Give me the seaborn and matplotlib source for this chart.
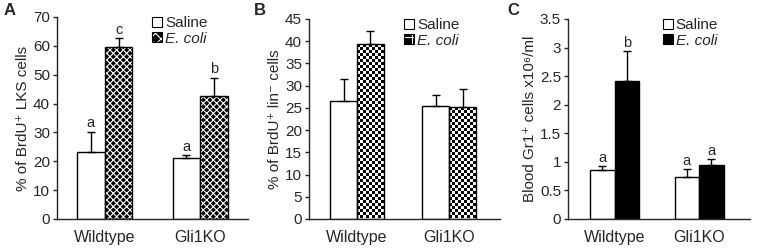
import numpy as np
import pandas as pd
import seaborn as sns
import matplotlib.pyplot as plt
from matplotlib.patches import Patch

genotypes = ["Wildtype", "Gli1KO"]
treatments = ["Saline", "E. coli"]

# panel A: % BrdU+ LKS cells
a_saline = [23.1, 21.1]
a_ecoli = [59.6, 42.7]
a_err_saline = [7.1, 1.1]
a_err_ecoli = [3.0, 6.2]
a_letters_saline = ["a", "a"]
a_letters_ecoli = ["c", "b"]

# panel B: % BrdU+ lin- cells
b_saline = [26.5, 25.5]
b_ecoli = [39.4, 25.3]
b_err_saline = [5.1, 2.5]
b_err_ecoli = [2.9, 4.0]

# panel C: blood Gr1+ cells
c_saline = [0.85, 0.74]
c_ecoli = [2.41, 0.945]
c_err_saline = [0.07, 0.13]
c_err_ecoli = [0.53, 0.10]
c_letters_saline = ["a", "a"]
c_letters_ecoli = ["b", "a"]

sns.set_style("ticks")
plt.rcParams["font.family"] = ["Liberation Sans", "DejaVu Sans"]
plt.rcParams["hatch.linewidth"] = 0.8

FS = 10.5


def make_df(saline, ecoli):
    return pd.DataFrame({
        "genotype": genotypes * 2,
        "treatment": [treatments[0]] * 2 + [treatments[1]] * 2,
        "value": list(saline) + list(ecoli),
    })


def draw_panel(ax, saline, ecoli, err_s, err_e, ylim, yticks, ylabel, xlim):
    df = make_df(saline, ecoli)
    sns.barplot(data=df, x="genotype", y="value", hue="treatment", order=genotypes,
                hue_order=treatments, palette=["white", "black"], width=0.58,
                errorbar=None, edgecolor="black", linewidth=1.0, legend=False,
                ax=ax, saturation=1)
    ax.set_xlim(*xlim)
    ax.set_ylim(*ylim)
    ax.set_yticks(yticks)
    ax.set_yticklabels([f"{t:g}" for t in yticks])
    ax.set_xlabel("")
    ax.set_ylabel(ylabel, fontsize=11, labelpad=2)
    ax.tick_params(axis="y", direction="out", length=3, width=1, labelsize=11, pad=2)
    ax.tick_params(axis="x", length=0, labelsize=11.5, pad=8)
    for s in ["left", "bottom"]:
        ax.spines[s].set_linewidth(1)
    sns.despine(ax=ax)
    tops = []
    for cont, errs in zip(ax.containers, [err_s, err_e]):
        xs = [b.get_x() + b.get_width() / 2 for b in cont]
        hs = [b.get_height() for b in cont]
        ax.errorbar(xs, hs, yerr=[np.zeros(len(errs)), errs], fmt="none",
                    ecolor="black", elinewidth=1, capsize=2.8, capthick=1, zorder=1)
        tops.append([(x, h + e) for x, h, e in zip(xs, hs, errs)])
    return tops


def add_letters(ax, tops, letters_list):
    for pts, letters in zip(tops, letters_list):
        for (x, y), lab in zip(pts, letters):
            ax.annotate(lab, (x, y), xytext=(0, 1.0), textcoords="offset points",
                        ha="center", va="bottom", fontsize=FS)


fig = plt.figure(figsize=(7.58, 2.48), dpi=100)
axA = fig.add_axes([57 / 758, 1 - 219 / 248, 191 / 758, 202 / 248])
axB = fig.add_axes([309 / 758, 1 - 219 / 248, 191 / 758, 200 / 248])
axC = fig.add_axes([568 / 758, 1 - 219 / 248, 182 / 758, 200 / 248])

# A
topsA = draw_panel(axA, a_saline, a_ecoli, a_err_saline, a_err_ecoli, (0, 70),
                   np.arange(0, 71, 10), "% of BrdU\u207a LKS cells", (-0.5, 1.5))
for b in axA.containers[1]:
    b.set_hatch("xxxxx")
    b._hatch_color = (1, 1, 1, 1)
add_letters(axA, topsA, [a_letters_saline, a_letters_ecoli])
hA = [Patch(facecolor="white", edgecolor="black", linewidth=0.8),
      Patch(facecolor="black", edgecolor="black", linewidth=0.8, hatch="xxx")]
hA[1]._hatch_color = (1, 1, 1, 1)

# B
topsB = draw_panel(axB, b_saline, b_ecoli, b_err_saline, b_err_ecoli, (0, 45),
                   np.arange(0, 46, 5), "% of BrdU\u207a lin\u207b cells", (-0.52, 1.55))
fig.canvas.draw()
for b in axB.containers[1]:
    b.set_facecolor("none")
    x0, x1 = b.get_x(), b.get_x() + b.get_width()
    y0, y1 = 0, b.get_height()
    (px0, py0), (px1, py1) = axB.transData.transform([(x0, y0), (x1, y1)])
    nc = max(1, int(round((px1 - px0) / 3.0)))
    nr = max(1, int(round((py1 - py0) / 3.0)))
    checker = (np.add.outer(np.arange(nr), np.arange(nc)) % 2).astype(float)
    im = axB.imshow(checker, extent=(x0, x0 + nc * (x1 - x0) / (px1 - px0) * 3.0,
                                     y1 - nr * (y1 - y0) / (py1 - py0) * 3.0, y1),
                    cmap="gray", interpolation="nearest", aspect="auto",
                    zorder=b.get_zorder() - 0.05, origin="upper")
    im.set_clip_path(b)
axB.set_xlim(-0.52, 1.55)
axB.set_ylim(0, 45)
hB = [Patch(facecolor="white", edgecolor="black", linewidth=0.8),
      Patch(facecolor="black", edgecolor="black", linewidth=0.8, hatch="++")]
hB[1]._hatch_color = (1, 1, 1, 1)

# C
topsC = draw_panel(axC, c_saline, c_ecoli, c_err_saline, c_err_ecoli, (0, 3.5),
                   np.arange(0, 3.51, 0.5), "Blood Gr1\u207a cells x10\u2076/ml", (-0.55, 1.6))
add_letters(axC, topsC, [c_letters_saline, c_letters_ecoli])
hC = [Patch(facecolor="white", edgecolor="black", linewidth=0.8),
      Patch(facecolor="black", edgecolor="black", linewidth=0.8)]

for ax, handles, anchor in [(axA, hA, (0.45, 1.05)), (axB, hB, (0.45, 1.05)), (axC, hC, (0.47, 1.05))]:
    leg = ax.legend(handles, treatments, loc="upper left", bbox_to_anchor=anchor,
                    frameon=False, fontsize=11, handlelength=0.65, handleheight=0.65,
                    handletextpad=0.2, labelspacing=0.1, borderpad=0.1)
    leg.get_texts()[1].set_fontstyle("italic")

for x, lab in [(4 / 758, "A"), (254 / 758, "B"), (507 / 758, "C")]:
    fig.text(x, 1 - 3 / 248, lab, fontsize=12, fontweight="bold", va="top", ha="left")

fig.savefig("out.png", dpi=100)
